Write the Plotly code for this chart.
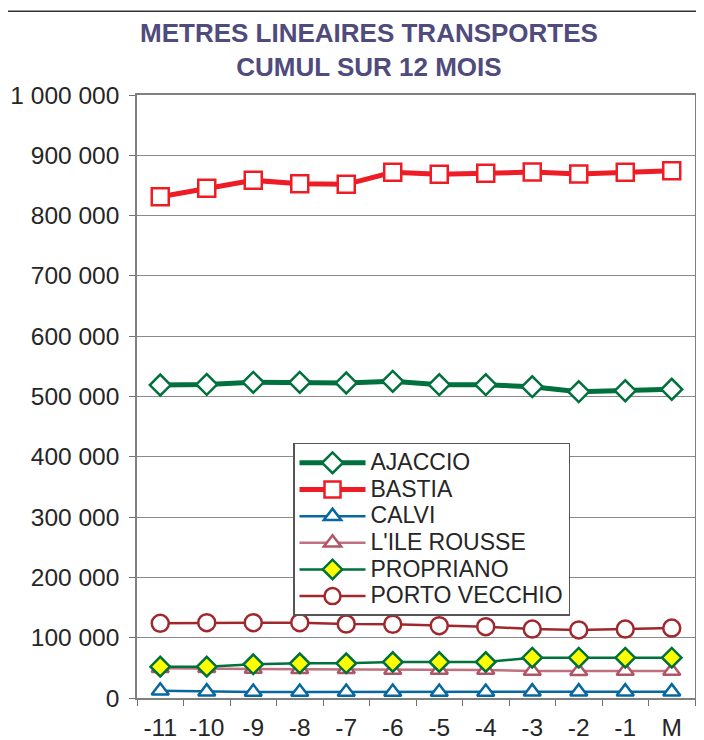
import plotly.graph_objects as go

months = ["-11", "-10", "-9", "-8", "-7", "-6", "-5", "-4", "-3", "-2", "-1", "M"]

ajaccio = [519000, 520000, 523500, 523500, 522400, 525200, 519600, 519600, 516300, 508000, 509600, 512000]
bastia = [831300, 845200, 858500, 852900, 851900, 871800, 868500, 870100, 872300, 869000, 871800, 874500]
calvi = [12000, 10500, 10000, 10000, 10000, 10000, 10000, 10000, 10500, 10500, 10500, 10500]
ile_rousse = [49200, 49200, 48000, 47500, 47500, 46400, 46400, 46400, 44800, 44200, 44800, 44800]
propriano = [52000, 52000, 55800, 57500, 57500, 59700, 59700, 59700, 66900, 66900, 66900, 66900]
porto_vecchio = [123900, 124900, 124900, 124900, 122700, 122300, 120000, 118200, 114400, 112800, 114400, 116000]

series = [
    ("AJACCIO", ajaccio, "#00703C", 5, "diamond", 16, "white", "#00703C"),
    ("BASTIA", bastia, "#EE1C25", 5, "square", 17, "white", "#EE1C25"),
    ("CALVI", calvi, "#0767A0", 2.5, "triangle-up", 15, "white", "#0767A0"),
    ("L'ILE ROUSSE", ile_rousse, "#C0707E", 2.5, "triangle-up", 15, "white", "#B05566"),
    ("PROPRIANO", propriano, "#00703C", 2.5, "diamond", 15, "#FFFF00", "#00703C"),
    ("PORTO VECCHIO", porto_vecchio, "#A0282D", 2.5, "circle", 17, "white", "#A0282D"),
]

fig = go.Figure()
for name, vals, lc, lw, sym, ms, mfill, mline in series:
    fig.add_trace(go.Scatter(
        x=months, y=vals, mode="lines+markers",
        name=f"<span style='font-size:23px'>{name}</span>",
        line=dict(color=lc, width=lw),
        marker=dict(symbol=sym, size=ms, color=mfill, line=dict(color=mline, width=2.5)),
    ))

tick_font = dict(family="Liberation Sans, Arial, sans-serif", size=24.5, color="#262626")

fig.update_layout(
    width=696, height=732,
    margin=dict(l=129, r=9, t=87, b=42),
    paper_bgcolor="white", plot_bgcolor="white",
    separators=", ",
    showlegend=True,
    legend=dict(
        x=0.2796, y=0.4229, xanchor="left", yanchor="top",
        bgcolor="white", bordercolor="#555555", borderwidth=1.5,
        font=dict(family="Liberation Sans, Arial, sans-serif", size=18.2, color="#262626"),
        itemwidth=66, tracegroupgap=0,
    ),
    xaxis=dict(
        type="category", tickson="boundaries", ticks="outside", ticklen=6,
        tickcolor="#707070", showline=True, linecolor="#808080", linewidth=1.5,
        mirror=True, showgrid=False, tickfont=tick_font, range=[-0.5, 11.5],
        ticklabelstandoff=7, automargin=False,
    ),
    yaxis=dict(
        range=[0, 1000000], dtick=100000, tickformat=",d",
        ticks="outside", ticklen=6, tickcolor="#707070",
        showline=True, linecolor="#808080", linewidth=1.5, mirror=True,
        showgrid=True, gridcolor="#8a8a8a", gridwidth=1,
        tickfont=tick_font, zeroline=False,
        ticklabelstandoff=5, automargin=False,
    ),
    annotations=[dict(
        text="<b>METRES LINEAIRES TRANSPORTES<br>CUMUL SUR 12 MOIS</b>",
        xref="paper", yref="paper", x=0.4158, y=1.0738,
        xanchor="center", yanchor="middle", showarrow=False,
        font=dict(family="Liberation Sans, Arial, sans-serif", size=26, color="#4F4B7C"),
    )],
    shapes=[dict(
        type="rect", xref="paper", yref="paper",
        x0=-0.233, x1=1.2, y0=-0.3, y1=1.139,
        line=dict(color="#333333", width=1.5), layer="below",
    )],
)

fig.write_html("out.html")
